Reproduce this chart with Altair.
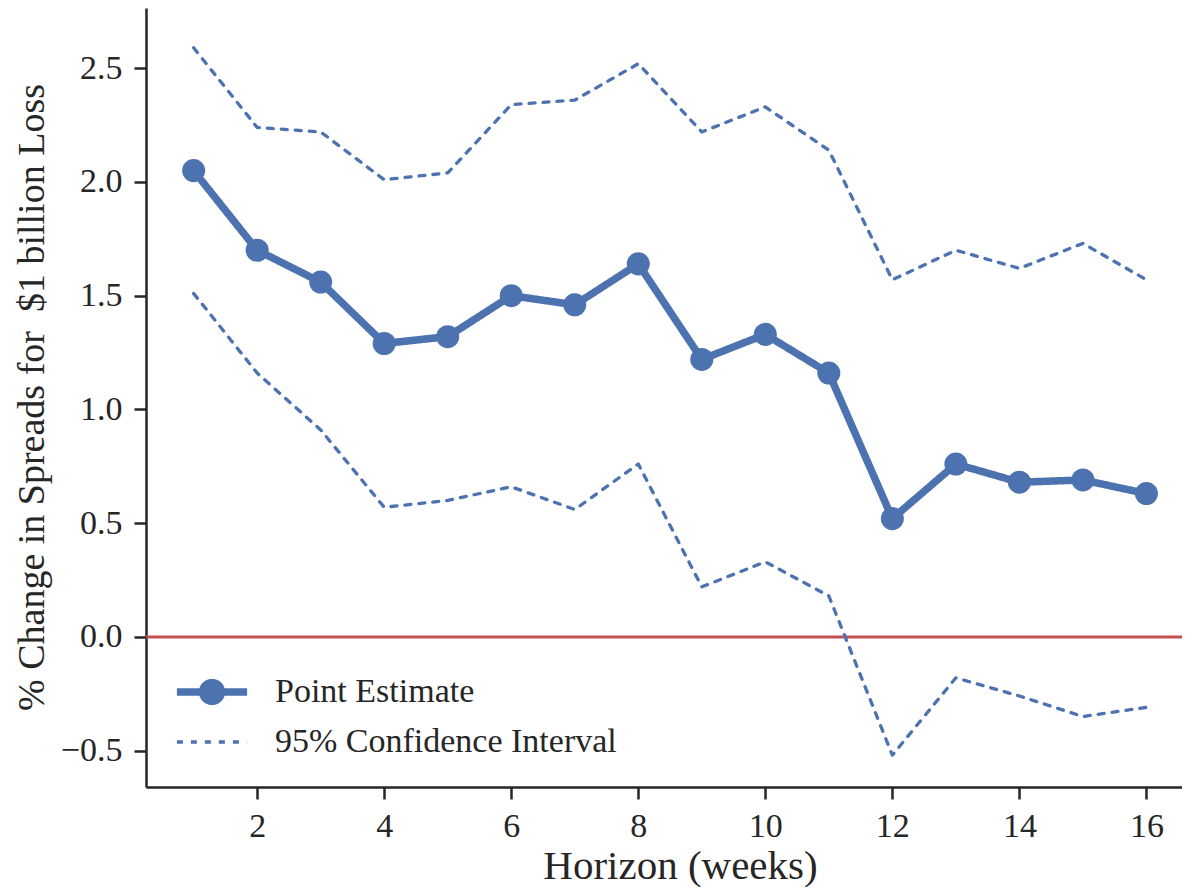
import altair as alt
import pandas as pd

# ---- data ----
horizon = list(range(1, 17))
point_estimate = [2.05, 1.70, 1.56, 1.29, 1.32, 1.50, 1.46, 1.64,
                  1.22, 1.33, 1.16, 0.52, 0.76, 0.68, 0.69, 0.63]
ci_upper = [2.59, 2.24, 2.22, 2.01, 2.04, 2.34, 2.36, 2.52,
            2.22, 2.33, 2.14, 1.57, 1.70, 1.62, 1.73, 1.57]
ci_lower = [1.51, 1.16, 0.91, 0.57, 0.60, 0.66, 0.56, 0.76,
            0.22, 0.33, 0.18, -0.52, -0.18, -0.26, -0.35, -0.31]
x_ticks = [2, 4, 6, 8, 10, 12, 14, 16]
y_ticks = [-0.5, 0.0, 0.5, 1.0, 1.5, 2.0, 2.5]
labels = ["Point Estimate", "95% Confidence Interval"]
zero_line = [0.0]

BLUE = "#4C72B0"
RED = "#C44E52"
INK = "#262626"
FONT = "Liberation Serif"

n = len(horizon)
df = pd.DataFrame({
    "horizon": horizon * 3,
    "value": point_estimate + ci_upper + ci_lower,
    "series": ["pe"] * n + ["upper"] * n + ["lower"] * n,
    "label": [labels[0]] * n + [labels[1]] * (2 * n),
})
pe_df = df[df["series"] == "pe"]
zero_df = pd.DataFrame({"zero": zero_line})

x_scale = alt.Scale(domain=[0.25, 16.56], nice=False, zero=False)
y_scale = alt.Scale(domain=[-0.66, 2.765], nice=False, zero=False)

x_axis = alt.Axis(values=x_ticks, title="Horizon (weeks)", grid=False,
                  labelFontSize=34, labelPadding=10, tickSize=12, tickWidth=2.5,
                  domainWidth=2.5, titleFontSize=41, titleFontWeight="normal",
                  titleBaseline="alphabetic", titleX=534, titleY=91, titleAlign="center")
y_axis = alt.Axis(values=y_ticks, format=".1f",
                  title="% Change in Spreads for \u00a0$1 billion Loss", grid=False,
                  labelFontSize=34, labelPadding=12, tickSize=12, tickWidth=2.5,
                  domainWidth=2.5, titleFontSize=38, titleFontWeight="normal",
                  titleBaseline="alphabetic", titleX=-103, titleY=389,
                  titleAlign="center", titleAngle=270)

r = 0.72
path_pe = (f"M-2.7,0L2.7,0M-{r},0A{r},{r},0,1,1,{r},0A{r},{r},0,1,1,-{r},0Z")
path_ci = "M-2.7,0L2.7,0"

legend = alt.Legend(orient="none", legendX=27, legendY=667, title=None,
                    symbolSize=676, symbolOffset=22, labelOffset=46, labelLimit=0,
                    labelFontSize=34, labelColor=INK, labelFont=FONT,
                    rowPadding=8, padding=0, symbolFillColor=BLUE)

dash = alt.StrokeDash("label:N", scale=alt.Scale(domain=labels, range=[[1, 0], [6, 8]]),
                      legend=legend)
width_enc = alt.StrokeWidth("label:N",
                            scale=alt.Scale(type="point", domain=labels, range=[7.5, 3.3], padding=0),
                            legend=legend)
shape_enc = alt.Shape("label:N", scale=alt.Scale(domain=labels, range=[path_pe, path_ci]),
                      legend=legend)

rule = alt.Chart(zero_df).mark_rule(color=RED, strokeWidth=3).encode(
    y=alt.Y("zero:Q", scale=y_scale, axis=y_axis)
)

lines = alt.Chart(df).mark_line(color=BLUE, strokeCap="round", strokeJoin="round").encode(
    x=alt.X("horizon:Q", scale=x_scale, axis=x_axis),
    y=alt.Y("value:Q", scale=y_scale, axis=y_axis),
    detail="series:N",
    strokeDash=dash,
    strokeWidth=width_enc,
)

points = alt.Chart(pe_df).mark_circle(color=BLUE, opacity=1, size=531).encode(
    x=alt.X("horizon:Q", scale=x_scale, axis=x_axis),
    y=alt.Y("value:Q", scale=y_scale, axis=y_axis),
)

legend_layer = alt.Chart(df).mark_point(color=BLUE).encode(
    x=alt.X("horizon:Q", scale=x_scale, axis=x_axis),
    y=alt.Y("value:Q", scale=y_scale, axis=y_axis),
    shape=shape_enc,
).transform_filter(alt.datum.horizon < 0)

chart = alt.layer(rule, lines, points, legend_layer).properties(
    width=1036, height=779,
    autosize=alt.AutoSizeParams(type="none"),
    padding={"left": 138, "top": 0, "right": 0, "bottom": 100},
).configure(
    font=FONT,
).configure_view(
    stroke=None,
).configure_axis(
    domainColor=INK, tickColor=INK, labelColor=INK, titleColor=INK,
    labelFont=FONT, titleFont=FONT,
).configure_legend(
    symbolFillColor=BLUE,
)

chart.save("out.html", embed_options={"renderer": "svg", "actions": False})
